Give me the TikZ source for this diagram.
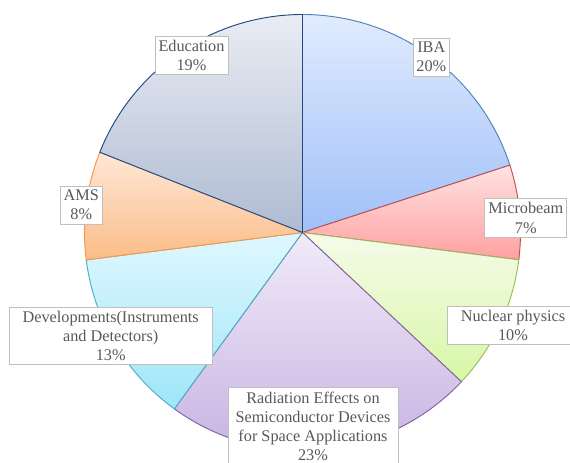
\documentclass[tikz,border=0pt]{standalone}
\usepackage{fontspec}
\setmainfont{Liberation Serif}
\definecolor{txtgris}{HTML}{595959}
\definecolor{bordegris}{HTML}{BFBFBF}
\definecolor{ibaborde}{HTML}{4F81BD}
\definecolor{microborde}{HTML}{C0504D}
\definecolor{nuclborde}{HTML}{9BBB59}
\definecolor{radborde}{HTML}{8064A2}
\definecolor{devborde}{HTML}{4BACC6}
\definecolor{amsborde}{HTML}{F79646}
\definecolor{eduborde}{HTML}{1F497D}
\usetikzlibrary{positioning}

\tikzset{
  etiqueta/.style={draw=bordegris, fill=white, text=txtgris, align=center,
    inner xsep=2.6pt, inner ysep=3pt, line width=0.6pt,
    font=\fontsize{12.2}{14.3}\selectfont},
  rebanada/.style={line width=0.7pt}
}

\begin{document}
\begin{tikzpicture}[x=0.75pt, y=0.75pt]
        \useasboundingbox (0,0) rectangle (570,463);
        \coordinate (c) at (302.5,230.5);
        % slices, clockwise from the top
        \draw[rebanada, top color={rgb,255:red,225;green,235;blue,253}, bottom color={rgb,255:red,160;green,192;blue,249}, draw=ibaborde]
          (c) -- +(90:218) arc[start angle=90, end angle=18, radius=163.5pt] -- cycle;
        \draw[rebanada, top color={rgb,255:red,255;green,226;blue,226}, bottom color={rgb,255:red,255;green,160;blue,160}, draw=microborde]
          (c) -- +(18:218) arc[start angle=18, end angle=-7.2, radius=163.5pt] -- cycle;
        \draw[rebanada, top color={rgb,255:red,245;green,251;blue,234}, bottom color={rgb,255:red,216;green,247;blue,166}, draw=nuclborde]
          (c) -- +(-7.2:218) arc[start angle=-7.2, end angle=-43.2, radius=163.5pt] -- cycle;
        \draw[rebanada, top color={rgb,255:red,241;green,235;blue,249}, bottom color={rgb,255:red,196;green,174;blue,224}, draw=radborde]
          (c) -- +(-43.2:218) arc[start angle=-43.2, end angle=-126, radius=163.5pt] -- cycle;
        \draw[rebanada, top color={rgb,255:red,224;green,247;blue,254}, bottom color={rgb,255:red,157;green,230;blue,249}, draw=devborde]
          (c) -- +(-126:218) arc[start angle=-126, end angle=-172.8, radius=163.5pt] -- cycle;
        \draw[rebanada, top color={rgb,255:red,255;green,231;blue,214}, bottom color={rgb,255:red,251;green,189;blue,136}, draw=amsborde]
          (c) -- +(-172.8:218) arc[start angle=-172.8, end angle=-201.6, radius=163.5pt] -- cycle;
        \draw[rebanada, top color={rgb,255:red,233;green,236;blue,244}, bottom color={rgb,255:red,175;green,187;blue,210}, draw=eduborde]
          (c) -- +(158.4:218) arc[start angle=158.4, end angle=90, radius=163.5pt] -- cycle;
        % labels
        \node[etiqueta] (edu) at (191.5,407.5) {Education\\19\%};
        \node[etiqueta] (iba) at (431.3,406) {IBA\\20\%};
        \node[etiqueta] (micro) at (525.8,245) {Microbeam\\7\%};
        \node[etiqueta, minimum width=99pt] (nucl) at (513,137.7) {Nuclear physics\\10\%};
        \node[etiqueta, anchor=north, minimum width=127.5pt] (rad) at (313,75.7) {Radiation Effects on\\Semiconductor Devices\\for Space Applications\\23\%};
        \node[etiqueta, minimum width=152pt] (dev) at (110.7,127.2) {Developments(Instruments\\and Detectors)\\13\%};
        \node[etiqueta] (ams) at (81.3,258) {AMS\\8\%};
      \end{tikzpicture}
\end{document}
